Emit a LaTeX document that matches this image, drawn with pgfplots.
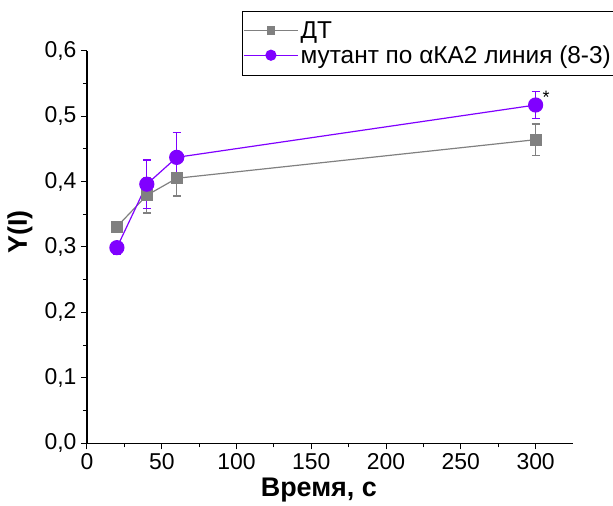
\documentclass[border=0pt]{standalone}
\usepackage{pgfplots}
\pgfplotsset{compat=1.18}
\usepackage{fontspec}
\setmainfont{Liberation Sans}
\definecolor{wtgray}{RGB}{128,128,128}
\definecolor{mutviolet}{RGB}{128,0,255}
\begin{document}
\begin{tikzpicture}[x=1bp,y=1bp]
\useasboundingbox (-87,-62.7) rectangle (526,443.3);
\begin{axis}[
  at={(0,0)}, anchor=south west,
  scale only axis, width=486bp, height=392.6bp,
  xmin=0, xmax=325, ymin=0, ymax=0.6,
  axis x line*=bottom, axis y line*=left,
  axis line style={line width=1.1bp, black},
  xtick={0,50,...,300}, minor x tick num=1,
  ytick={0,0.1,0.2,0.3,0.4,0.5,0.6}, minor y tick num=1,
  tick align=outside, major tick length=6bp, minor tick length=4bp,
  tick style={black, line width=1bp},
  /pgf/number format/assume math mode=true,
  yticklabel style={xshift=-1bp, /pgf/number format/fixed, /pgf/number format/fixed zerofill,
    /pgf/number format/precision=1, /pgf/number format/use comma},
  ticklabel style={font=\fontsize{23}{26}\selectfont},
  xticklabel style={yshift=-1bp},
  xlabel={Время, с}, ylabel={Y(I)},
  label style={font=\fontsize{27}{30}\selectfont\bfseries},
  xlabel style={at={(axis description cs:0.477,-0.119)}, anchor=center},
  ylabel style={at={(axis description cs:-0.138,0.538)}, anchor=center},
  legend style={at={(axis description cs:0.319,1.101)}, anchor=north west,
    draw=black, line width=0.6bp, inner xsep=1bp, inner ysep=8bp, row sep=2bp,
    font=\fontsize{24.5}{28}\selectfont, legend cell align=left,
    nodes={inner sep=2bp}},
  legend image code/.code={\draw[mark repeat=2,mark phase=2,#1] plot coordinates {(0bp,0bp)(27bp,0bp)(54bp,0bp)};},
  error bars/y dir=both, error bars/y explicit,
  error bars/error bar style={line width=1.1bp},
  error bars/error mark options={rotate=90, mark size=4bp, line width=1.1bp},
]
% wild type
\addplot[wtgray, line width=1.2bp, mark=square*, mark size=5.5bp, forget plot]
  coordinates {
    (20,0.331) +- (0,0.007)
    (40,0.379) +- (0,0.027)
    (60,0.405) +- (0,0.027)
    (300,0.464) +- (0,0.024)
  };
% mutant line (8-3)
\addplot[mutviolet, line width=1.2bp, mark=*, mark size=7bp, forget plot]
  coordinates {
    (20,0.299) +- (0,0.010)
    (40,0.396) +- (0,0.037)
    (60,0.437) +- (0,0.038)
    (300,0.517) +- (0,0.020)
  };
\addlegendimage{wtgray, line width=1.2bp, mark=square*, mark size=3.5bp}
\addlegendentry{ДТ}
\addlegendimage{mutviolet, line width=1.2bp, mark=*, mark size=5bp}
\addlegendentry{мутант по αКА2 линия (8-3)}
\node[font=\fontsize{18}{20}\selectfont] at (axis cs:307,0.528) {*};
\end{axis}
\end{tikzpicture}
\end{document}
